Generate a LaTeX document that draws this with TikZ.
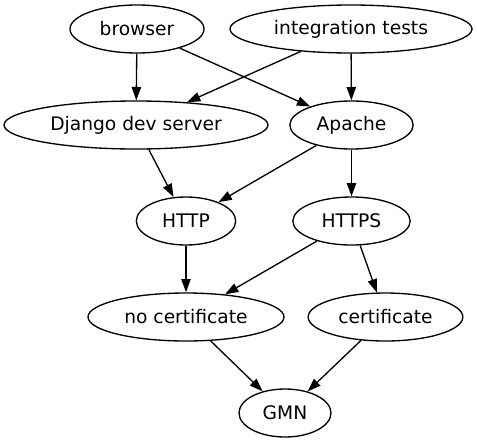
\documentclass[tikz,border=0pt]{standalone}
\usepackage{fontspec}
\setmainfont{DejaVu Sans}
\usetikzlibrary{shapes.geometric,arrows.meta}
\tikzset{
  gv/.style={draw, ellipse, line width=1pt, inner sep=0pt, minimum height=36pt, font=\fontsize{14}{16}\selectfont},
  edge/.style={draw, line width=1pt, -{Triangle[length=10pt,width=7pt]}}
}
\begin{document}
\begin{tikzpicture}[x=0.75pt,y=-0.75pt]
\useasboundingbox (0,0) rectangle (477,443);
\node[gv, minimum width=100.5pt] (browser) at (137,29) {browser};
\node[gv, minimum width=181.5pt] (it) at (351,29) {integration tests};
\node[gv, minimum width=198pt] (django) at (136,125) {Django dev server};
\node[gv, minimum width=92.5pt] (apache) at (351.5,125) {Apache};
\node[gv, minimum width=74.5pt] (http) at (186,221) {HTTP};
\node[gv, minimum width=88pt] (https) at (351.5,221) {HTTPS};
\node[gv, minimum width=147pt] (nocert) at (186,317) {no certificate};
\node[gv, minimum width=116pt] (cert) at (385.5,317) {certificate};
\node[gv, minimum width=69pt] (gmn) at (285,413) {GMN};
\draw[edge] (browser) -- (django);
\draw[edge] (browser) -- (apache);
\draw[edge] (it) -- (django);
\draw[edge] (it) -- (apache);
\draw[edge] (django) -- (http);
\draw[edge] (apache) -- (http);
\draw[edge] (apache) -- (https);
\draw[edge] (http) -- (nocert);
\draw[edge] (https) -- (nocert);
\draw[edge] (https) -- (cert);
\draw[edge] (nocert) -- (gmn);
\draw[edge] (cert) -- (gmn);
\end{tikzpicture}
\end{document}
